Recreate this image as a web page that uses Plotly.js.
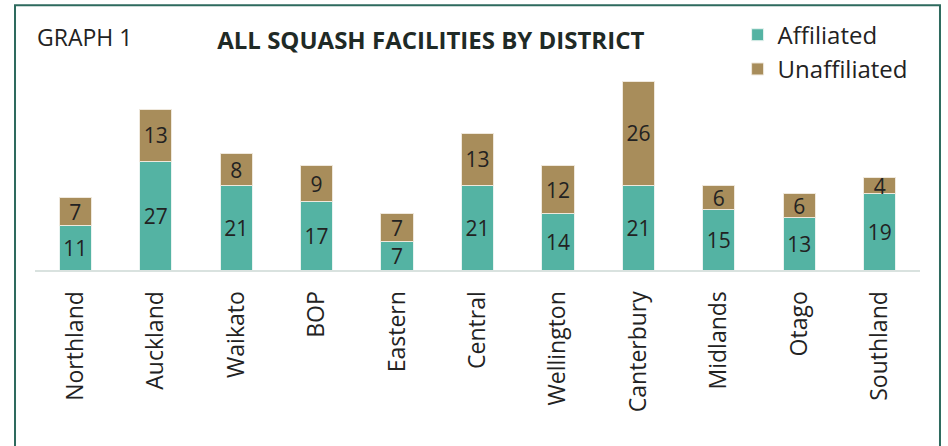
<!DOCTYPE html>
<html>
<head>
<meta charset="utf-8">
<script src="https://cdn.plot.ly/plotly-3.0.1.min.js"></script>
<style>
html,body{margin:0;padding:0;background:#fff;}
#chart{width:948px;height:446px;}
</style>
</head>
<body>
<div id="chart"></div>
<script>
const districts = ["Northland","Auckland","Waikato","BOP","Eastern","Central","Wellington","Canterbury","Midlands","Otago","Southland"];
const affiliated = [11,27,21,17,7,21,14,21,15,13,19];
const unaffiliated = [7,13,8,9,7,13,12,26,6,6,4];

const FONT = "Open Sans, DejaVu Sans, sans-serif";
const TEAL = "#54B3A3";
const BROWN = "#A88D5B";

// plot area geometry (px)
const L = 35, R = 920.5, T = 68.5, B = 270, W = 948, H = 446;
const pw = R - L, ph = B - T;
const px = x => (x - L) / pw;
const py = y => (B - y) / ph;

const common = {
  type: "bar",
  x: districts,
  textposition: "inside",
  insidetextanchor: "middle",
  textangle: 0,
  constraintext: "none",
  textfont: {family: FONT, size: 21, color: "#222"},
  hoverinfo: "skip",
};

const traces = [
  Object.assign({}, common, {
    name: "Affiliated", y: affiliated, text: affiliated.map(String),
    marker: {color: TEAL, line: {color: "#e8f3f0", width: 1}}
  }),
  Object.assign({}, common, {
    name: "Unaffiliated", y: unaffiliated, text: unaffiliated.map(String),
    marker: {color: BROWN, line: {color: "#efe8dc", width: 1}}
  })
];

const layout = {
  width: W, height: H,
  margin: {l: L, r: W - R, t: T, b: H - B, pad: 0},
  paper_bgcolor: "#fff", plot_bgcolor: "#fff",
  barmode: "stack",
  bargap: 0.6,
  showlegend: true,
  legend: {
    x: px(738), y: py(12), xanchor: "left", yanchor: "top",
    font: {family: FONT, size: 24, color: "#222"},
    itemwidth: 30, tracegroupgap: 0, traceorder: "normal",
    bgcolor: "rgba(0,0,0,0)"
  },
  title: {
    text: "<b>ALL SQUASH FACILITIES BY DISTRICT</b>",
    font: {family: FONT, size: 24, color: "#1f2a26"},
    xref: "paper", x: px(431), xanchor: "center",
    yref: "container", y: 1 - 41 / H, yanchor: "middle"
  },
  xaxis: {
    type: "category",
    showgrid: false, zeroline: false,
    showline: true, linecolor: "#d9e2df", linewidth: 2,
    ticks: "", tickangle: -90,
    ticklabelstandoff: 10,
    tickfont: {family: FONT, size: 23, color: "#222"},
    fixedrange: true
  },
  yaxis: {
    range: [0, 50], visible: false, showgrid: false, zeroline: false, fixedrange: true
  },
  annotations: [{
    text: "GRAPH 1", xref: "paper", yref: "paper",
    x: px(35), y: py(36), xanchor: "left", yanchor: "middle",
    showarrow: false, font: {family: FONT, size: 23, color: "#222"}
  }],
  shapes: [{
    type: "rect", xref: "paper", yref: "paper",
    x0: px(15), x1: px(940.5), y0: py(460), y1: py(4.5),
    line: {color: "#2E6A5E", width: 2}, fillcolor: "rgba(0,0,0,0)", layer: "below"
  }]
};

Plotly.newPlot("chart", traces, layout, {displayModeBar: false, staticPlot: true});
</script>
</body>
</html>
